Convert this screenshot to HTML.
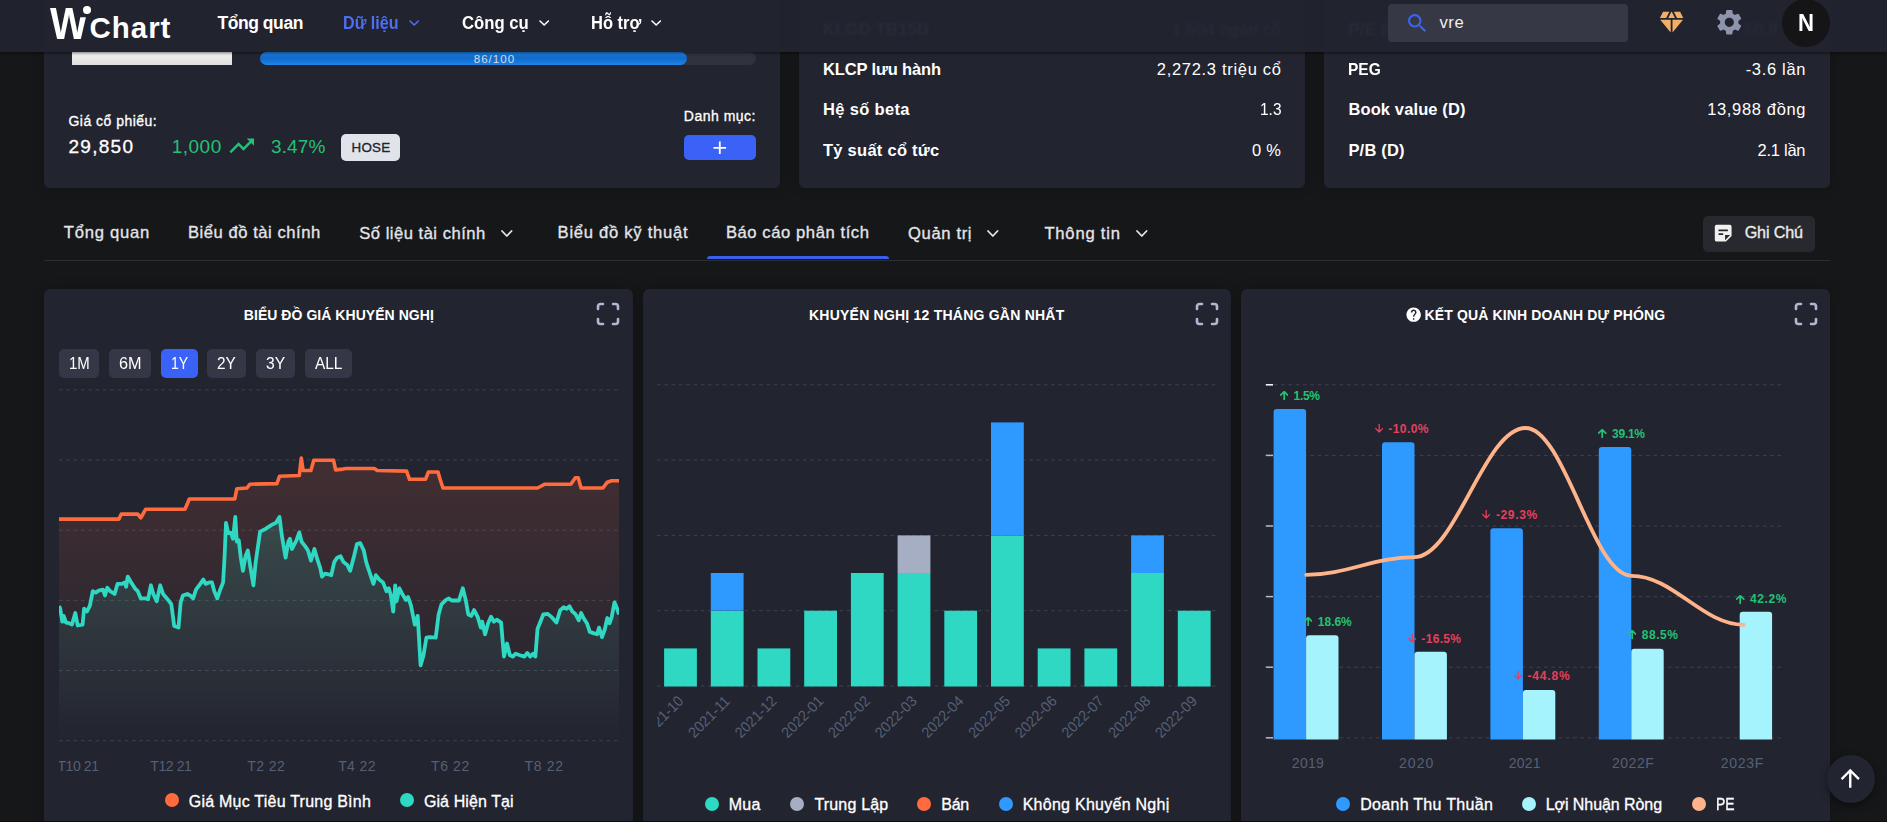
<!DOCTYPE html>
<html lang="vi"><head><meta charset="utf-8"><title>WiChart - VRE</title><style>
*{box-sizing:border-box;margin:0;padding:0}
html,body{width:1887px;height:825px;overflow:hidden;background:#161719;font-family:"Liberation Sans", sans-serif}
body{position:relative}
.b{position:absolute;display:block;border:0}
.t{position:absolute;white-space:pre;line-height:1;display:block}
.card{position:absolute;background:#222430;border-radius:6px;box-shadow:0 0 12px rgba(0,0,0,.22)}
.nav{position:absolute;left:0;top:0;width:1887px;height:52px;background:rgba(33,35,47,.97);box-shadow:0 1px 3px rgba(0,0,0,.55)}
.pb{display:inline-block;width:0;height:0}
.dot{width:14px;height:14px;border-radius:50%}
button.b{padding:0;font:inherit}
</style></head>
<body>
<main>
<section class="card" style="left:44px;top:-40px;width:736px;height:228px">
</section>
<div class="b logoimg" style="left:72.00px;top:52.00px;width:160.00px;height:13.00px;background:linear-gradient(#f4f4f4,#dedede)"></div>
<div class="b track" style="left:260.00px;top:52.00px;width:496.00px;height:13.00px;background:#30323e;border-radius:7px"><div style="width:86%;height:100%;border-radius:7px;background:linear-gradient(#1a86ea,#1468c8 45%,#1a86ea)"></div></div>
<span id="t0" class="t" style="left:473.70px;top:53.00px;font-size:11.60px;font-weight:400;color:#d5dcea;letter-spacing:1.006px;">86/100</span>
<span id="t1" class="t" style="left:68.50px;top:114.00px;font-size:14.00px;font-weight:400;color:#fff;letter-spacing:0.475px;-webkit-text-stroke:0.32px #fff;">Giá cổ phiếu:</span>
<span id="t2" class="t" style="left:68.50px;top:137.00px;font-size:19.00px;font-weight:400;color:#fff;letter-spacing:1.275px;-webkit-text-stroke:0.32px #fff;">29,850</span>
<span id="t3" class="t" style="left:171.80px;top:137.00px;font-size:19.00px;font-weight:400;color:#22c274;letter-spacing:0.463px;">1,000</span>
<svg class="b" style="left:227.30px;top:130.90px" width="29.50" height="29.50" viewBox="0 0 24 24"><path d="m16 6 2.29 2.29-4.88 4.88-4-4L2 16.59 3.41 18l6-6 4 4 6.3-6.29L22 12V6z" fill="#22c274" /></svg>
<span id="t4" class="t" style="left:270.90px;top:137.00px;font-size:19.00px;font-weight:400;color:#22c274;letter-spacing:0.181px;">3.47%</span>
<div class="b badge" style="left:341.00px;top:134.00px;width:59.00px;height:27.00px;background:#e0e3ea;border-radius:5px"></div>
<span id="t5" class="t" style="left:351.40px;top:141.00px;font-size:13.40px;font-weight:400;color:#20222c;letter-spacing:0.316px;-webkit-text-stroke:0.32px #20222c;">HOSE</span>
<span id="t6" class="t" style="left:683.80px;top:109.00px;font-size:14.00px;font-weight:400;color:#fff;letter-spacing:0.500px;-webkit-text-stroke:0.32px #fff;">Danh mục:</span>
<button class="b btn" style="left:684.00px;top:135.00px;width:72.00px;height:25.00px;background:#3b62f6;border-radius:5px"></button>
<svg class="b" style="left:708.80px;top:136.80px" width="21.60" height="21.60" viewBox="0 0 24 24"><path d="M19 13h-6v6h-2v-6H5v-2h6V5h2v6h6v2z" fill="#fff" /></svg>
<section class="card" style="left:799px;top:-40px;width:506px;height:228px"></section>
<span id="t7" class="t" style="left:823.00px;top:61.00px;font-size:16.50px;font-weight:700;color:#fff;letter-spacing:-0.151px;">KLCP lưu hành</span>
<span id="t8" class="t" style="left:1156.80px;top:61.00px;font-size:16.50px;font-weight:400;color:#fff;letter-spacing:0.697px;">2,272.3 triệu cổ</span>
<span id="t9" class="t" style="left:823.00px;top:101.00px;font-size:16.50px;font-weight:700;color:#fff;letter-spacing:0.339px;">Hệ số beta</span>
<span id="t10" class="t" style="left:1259.50px;top:101.00px;font-size:16.50px;font-weight:400;color:#fff;letter-spacing:0.000px;transform:scaleX(0.9373);transform-origin:0 0;">1.3</span>
<span id="t11" class="t" style="left:823.00px;top:142.00px;font-size:16.50px;font-weight:700;color:#fff;letter-spacing:0.261px;">Tỷ suất cổ tức</span>
<span id="t12" class="t" style="left:1251.90px;top:142.00px;font-size:16.50px;font-weight:400;color:#fff;letter-spacing:0.331px;">0 %</span>
<span id="t13" class="t" style="left:823.00px;top:21.00px;font-size:16.50px;font-weight:700;color:#fff;letter-spacing:0.267px;filter:blur(1.2px);">KLGD TB15D</span>
<span id="t14" class="t" style="left:1172.00px;top:21.00px;font-size:16.50px;font-weight:400;color:#fff;letter-spacing:0.367px;filter:blur(1.2px);">1,504 ngàn cổ</span>
<section class="card" style="left:1324px;top:-40px;width:506px;height:228px"></section>
<span id="t15" class="t" style="left:1348.40px;top:61.00px;font-size:16.50px;font-weight:700;color:#fff;letter-spacing:0.000px;transform:scaleX(0.9409);transform-origin:0 0;">PEG</span>
<span id="t16" class="t" style="left:1745.70px;top:61.00px;font-size:16.50px;font-weight:400;color:#fff;letter-spacing:0.679px;">-3.6 lần</span>
<span id="t17" class="t" style="left:1348.40px;top:101.00px;font-size:16.50px;font-weight:700;color:#fff;letter-spacing:0.121px;">Book value (D)</span>
<span id="t18" class="t" style="left:1707.20px;top:101.00px;font-size:16.50px;font-weight:400;color:#fff;letter-spacing:0.653px;">13,988 đồng</span>
<span id="t19" class="t" style="left:1348.40px;top:142.00px;font-size:16.50px;font-weight:700;color:#fff;letter-spacing:0.200px;">P/B (D)</span>
<span id="t20" class="t" style="left:1757.60px;top:142.00px;font-size:16.50px;font-weight:400;color:#fff;letter-spacing:-0.274px;">2.1 lần</span>
<span id="t21" class="t" style="left:1348.40px;top:21.00px;font-size:16.50px;font-weight:700;color:#fff;letter-spacing:0.351px;filter:blur(1.2px);">P/E (D)</span>
<span id="t22" class="t" style="left:1744.70px;top:21.00px;font-size:16.50px;font-weight:400;color:#fff;letter-spacing:0.297px;filter:blur(1.2px);">50.8 lần</span>
<nav class="tabs">
<span id="t23" class="t" style="left:63.80px;top:225.00px;font-size:16.60px;font-weight:400;color:#e4e5e9;letter-spacing:0.755px;-webkit-text-stroke:0.32px #e4e5e9;">Tổng quan</span>
<span id="t24" class="t" style="left:187.90px;top:225.00px;font-size:16.60px;font-weight:400;color:#e4e5e9;letter-spacing:0.548px;-webkit-text-stroke:0.32px #e4e5e9;">Biểu đồ tài chính</span>
<span id="t25" class="t" style="left:359.30px;top:226.00px;font-size:16.60px;font-weight:400;color:#e4e5e9;letter-spacing:0.489px;-webkit-text-stroke:0.32px #e4e5e9;">Số liệu tài chính</span>
<svg class="b" style="left:500.20px;top:229.00px" width="13.60" height="9.00" viewBox="-2 -2 13.60 9.00"><path d="M0 0 L4.80 5.00 L9.60 0" fill="none" stroke="#e4e5e9" stroke-width="1.80" stroke-linecap="round" stroke-linejoin="round"/></svg>
<span id="t26" class="t" style="left:557.60px;top:225.00px;font-size:16.60px;font-weight:400;color:#e4e5e9;letter-spacing:0.732px;-webkit-text-stroke:0.32px #e4e5e9;">Biểu đồ kỹ thuật</span>
<span id="t27" class="t" style="left:725.90px;top:225.00px;font-size:16.60px;font-weight:400;color:#e4e5e9;letter-spacing:0.582px;-webkit-text-stroke:0.32px #e4e5e9;">Báo cáo phân tích</span>
<span id="t28" class="t" style="left:908.00px;top:226.00px;font-size:16.60px;font-weight:400;color:#e4e5e9;letter-spacing:0.638px;-webkit-text-stroke:0.32px #e4e5e9;">Quản trị</span>
<svg class="b" style="left:986.40px;top:229.00px" width="13.60" height="9.00" viewBox="-2 -2 13.60 9.00"><path d="M0 0 L4.80 5.00 L9.60 0" fill="none" stroke="#e4e5e9" stroke-width="1.80" stroke-linecap="round" stroke-linejoin="round"/></svg>
<span id="t29" class="t" style="left:1044.40px;top:226.00px;font-size:16.60px;font-weight:400;color:#e4e5e9;letter-spacing:0.802px;-webkit-text-stroke:0.32px #e4e5e9;">Thông tin</span>
<svg class="b" style="left:1135.30px;top:229.00px" width="13.60" height="9.00" viewBox="-2 -2 13.60 9.00"><path d="M0 0 L4.80 5.00 L9.60 0" fill="none" stroke="#e4e5e9" stroke-width="1.80" stroke-linecap="round" stroke-linejoin="round"/></svg>
<div class="b " style="left:707.00px;top:256.00px;width:182.00px;height:3.00px;background:#3b5fe8;border-radius:3px 3px 0 0"></div>
<div class="b " style="left:44.00px;top:260.00px;width:1786.00px;height:1.00px;background:#2b2d39"></div>
<button class="b btn" style="left:1703.00px;top:216.00px;width:112.00px;height:36.00px;background:#28292f;border-radius:5px"></button>
<svg class="b" style="left:1712.40px;top:222.00px" width="22.40" height="22.40" viewBox="0 0 24 24"><path d="M19 3H4.99C3.89 3 3 3.9 3 5l.01 14c0 1.1.89 2 1.99 2h10l6-6V5c0-1.1-.9-2-2-2zM7 8h10v2H7V8zm5 6H7v-2h5v2zm2 5.5V14h5.5L14 19.5z" fill="#f0f0f0" /></svg>
<span id="t30" class="t" style="left:1744.70px;top:224.00px;font-size:16.20px;font-weight:400;color:#ececec;letter-spacing:-0.165px;-webkit-text-stroke:0.32px #ececec;">Ghi Chú</span>
</nav>
<section class="card panel" style="left:44.00px;top:289px;width:588.67px;height:560px"></section>
<svg class="b" style="left:593.27px;top:298.70px" width="30" height="30" viewBox="0 0 24 24" fill="none" stroke="#aeb8cf" stroke-width="2.1" stroke-linecap="round" stroke-linejoin="round"><path d="M4 8V6a2 2 0 0 1 2-2h2M4 16v2a2 2 0 0 0 2 2h2M16 4h2a2 2 0 0 1 2 2v2M16 20h2a2 2 0 0 0 2-2v-2"/></svg>
<section class="card panel" style="left:642.67px;top:289px;width:588.66px;height:560px"></section>
<svg class="b" style="left:1191.93px;top:298.70px" width="30" height="30" viewBox="0 0 24 24" fill="none" stroke="#aeb8cf" stroke-width="2.1" stroke-linecap="round" stroke-linejoin="round"><path d="M4 8V6a2 2 0 0 1 2-2h2M4 16v2a2 2 0 0 0 2 2h2M16 4h2a2 2 0 0 1 2 2v2M16 20h2a2 2 0 0 0 2-2v-2"/></svg>
<section class="card panel" style="left:1241.33px;top:289px;width:588.67px;height:560px"></section>
<svg class="b" style="left:1790.60px;top:298.70px" width="30" height="30" viewBox="0 0 24 24" fill="none" stroke="#aeb8cf" stroke-width="2.1" stroke-linecap="round" stroke-linejoin="round"><path d="M4 8V6a2 2 0 0 1 2-2h2M4 16v2a2 2 0 0 0 2 2h2M16 4h2a2 2 0 0 1 2 2v2M16 20h2a2 2 0 0 0 2-2v-2"/></svg>
<span id="t31" class="t" style="left:243.80px;top:308.00px;font-size:14.00px;font-weight:700;color:#fff;letter-spacing:0.045px;">BIỂU ĐỒ GIÁ KHUYẾN NGHỊ</span>
<span id="t32" class="t" style="left:809.00px;top:308.00px;font-size:14.00px;font-weight:700;color:#fff;letter-spacing:0.225px;">KHUYẾN NGHỊ 12 THÁNG GẦN NHẤT</span>
<span id="t33" class="t" style="left:1424.50px;top:308.00px;font-size:14.00px;font-weight:700;color:#fff;letter-spacing:0.135px;">KẾT QUẢ KINH DOANH DỰ PHÓNG</span>
<svg class="b" style="left:1404.85px;top:306.35px" width="17.30" height="17.30" viewBox="0 0 24 24"><path d="M12 2C6.48 2 2 6.48 2 12s4.48 10 10 10 10-4.48 10-10S17.52 2 12 2zm1 17h-2v-2h2v2zm2.07-7.75-.9.92C13.45 12.9 13 13.5 13 15h-2v-.5c0-1.1.45-2.1 1.17-2.83l1.24-1.26c.37-.36.59-.86.59-1.41 0-1.1-.9-2-2-2s-2 .9-2 2H8c0-2.21 1.79-4 4-4s4 1.79 4 4c0 .88-.36 1.68-.93 2.25z" fill="#fff" /></svg>
<button class="b btn" style="left:58.90px;top:349.00px;width:39.90px;height:29.00px;background:#353746;border-radius:5px"></button>
<button class="b btn" style="left:109.00px;top:349.00px;width:42.00px;height:29.00px;background:#353746;border-radius:5px"></button>
<button class="b btn" style="left:161.00px;top:349.00px;width:37.00px;height:29.00px;background:#3b62f6;border-radius:5px"></button>
<button class="b btn" style="left:207.10px;top:349.00px;width:38.70px;height:29.00px;background:#353746;border-radius:5px"></button>
<button class="b btn" style="left:256.00px;top:349.00px;width:39.00px;height:29.00px;background:#353746;border-radius:5px"></button>
<button class="b btn" style="left:305.10px;top:349.00px;width:46.70px;height:29.00px;background:#353746;border-radius:5px"></button>
<span id="t34" class="t" style="left:68.60px;top:355.00px;font-size:16.40px;font-weight:400;color:#fff;letter-spacing:0.000px;transform:scaleX(0.9130);transform-origin:0 0;">1M</span>
<span id="t35" class="t" style="left:118.60px;top:355.00px;font-size:16.40px;font-weight:400;color:#fff;letter-spacing:0.000px;transform:scaleX(0.9920);transform-origin:0 0;">6M</span>
<span id="t36" class="t" style="left:171.00px;top:355.00px;font-size:16.40px;font-weight:400;color:#fff;letter-spacing:0.000px;transform:scaleX(0.8573);transform-origin:0 0;">1Y</span>
<span id="t37" class="t" style="left:217.20px;top:355.00px;font-size:16.40px;font-weight:400;color:#fff;letter-spacing:0.000px;transform:scaleX(0.9371);transform-origin:0 0;">2Y</span>
<span id="t38" class="t" style="left:266.00px;top:355.00px;font-size:16.40px;font-weight:400;color:#fff;letter-spacing:0.000px;transform:scaleX(0.9570);transform-origin:0 0;">3Y</span>
<span id="t39" class="t" style="left:314.80px;top:355.00px;font-size:16.40px;font-weight:400;color:#fff;letter-spacing:0.000px;transform:scaleX(0.9393);transform-origin:0 0;">ALL</span>
<svg class="b chart" style="left:0;top:0" width="1887" height="825" viewBox="0 0 1887 825">
<defs><linearGradient id="go" x1="0" y1="458" x2="0" y2="741" gradientUnits="userSpaceOnUse"><stop offset="0" stop-color="#ff6b3d" stop-opacity=".145"/><stop offset="1" stop-color="#ff6b3d" stop-opacity="0"/></linearGradient><linearGradient id="gt" x1="0" y1="517" x2="0" y2="741" gradientUnits="userSpaceOnUse"><stop offset="0" stop-color="#2ed8c3" stop-opacity=".17"/><stop offset="1" stop-color="#2ed8c3" stop-opacity="0"/></linearGradient><clipPath id="c1"><rect x="59" y="380" width="560" height="400"/></clipPath><clipPath id="c2"><rect x="657" y="380" width="580" height="400"/></clipPath></defs>
<path d="M59 389.9 H619" stroke="#3e414e" stroke-width="1" stroke-dasharray="3.65 3.65" fill="none"/>
<path d="M59 460.0 H619" stroke="#3e414e" stroke-width="1" stroke-dasharray="3.65 3.65" fill="none"/>
<path d="M59 530.2 H619" stroke="#3e414e" stroke-width="1" stroke-dasharray="3.65 3.65" fill="none"/>
<path d="M59 600.4 H619" stroke="#3e414e" stroke-width="1" stroke-dasharray="3.65 3.65" fill="none"/>
<path d="M59 670.5 H619" stroke="#3e414e" stroke-width="1" stroke-dasharray="3.65 3.65" fill="none"/>
<path d="M59 740.6 H619" stroke="#3e414e" stroke-width="1" stroke-dasharray="3.65 3.65" fill="none"/>
<g clip-path="url(#c1)">
<path d="M59.0 519.1 L119.0 519.1 L121.3 514.1 L137.8 514.1 L140.8 517.9 L145.7 509.2 L185.0 509.2 L189.3 499.0 L234.8 499.0 L236.8 488.8 L247.0 488.0 L249.9 484.2 L276.9 483.6 L279.5 476.3 L299.3 475.5 L301.3 458.0 L303.1 470.5 L310.9 470.5 L313.8 460.3 L333.6 460.3 L335.6 469.9 L342.9 469.1 L345.8 468.5 L374.3 468.5 L377.2 470.5 L406.6 471.1 L409.5 479.3 L425.5 479.3 L428.4 472.0 L438.0 472.0 L440.1 479.3 L443.0 488.0 L537.5 488.0 L540.4 486.5 L544.8 484.2 L570.9 484.2 L575.3 477.8 L578.2 477.8 L581.1 488.0 L602.9 488.0 L607.3 482.2 L611.6 480.7 L619.0 480.7 L619 741 L59 741 Z" fill="url(#go)"/>
<path d="M59.0 606.0 L60.2 608.6 L62.3 621.7 L63.7 615.9 L66.0 622.6 L69.0 623.1 L71.9 624.6 L73.0 621.0 L75.3 613.0 L77.7 625.5 L82.6 624.6 L84.1 608.6 L87.0 611.5 L89.9 605.7 L92.8 591.2 L95.7 592.6 L98.6 590.6 L103.0 589.7 L105.0 595.5 L107.3 587.7 L110.2 591.2 L114.6 594.0 L117.5 583.9 L121.9 583.9 L124.8 582.4 L126.2 586.8 L127.7 576.6 L131.2 582.4 L134.9 588.3 L137.8 591.2 L140.8 598.4 L145.1 598.4 L148.0 599.3 L150.9 585.3 L153.3 594.0 L156.7 601.3 L160.2 585.3 L163.1 594.0 L166.9 598.4 L171.3 604.2 L174.2 626.0 L178.5 627.5 L180.6 602.8 L182.9 595.5 L187.3 594.0 L190.2 595.5 L193.1 598.4 L196.0 589.7 L200.3 583.9 L203.3 579.5 L205.6 583.9 L209.1 582.4 L212.0 582.4 L214.3 591.2 L217.3 598.4 L220.2 589.7 L223.1 582.4 L224.6 556.3 L226.0 522.8 L228.1 533.0 L231.0 533.0 L233.0 538.8 L235.3 517.0 L236.8 541.7 L238.8 540.3 L240.6 556.3 L242.9 570.8 L245.5 556.3 L247.8 550.5 L250.5 567.9 L253.4 585.3 L255.7 562.1 L260.1 531.6 L265.9 528.7 L271.7 524.9 L276.0 522.8 L279.5 517.0 L281.9 535.9 L285.6 557.7 L288.3 541.7 L290.0 538.8 L292.0 549.0 L296.4 540.3 L299.3 532.4 L301.6 541.7 L305.1 546.1 L308.0 550.5 L310.9 560.6 L314.4 549.0 L317.3 559.2 L320.2 567.9 L322.0 576.6 L324.9 573.7 L328.4 574.3 L331.3 575.2 L334.2 562.1 L337.1 557.7 L340.6 556.3 L343.5 562.1 L347.3 565.0 L350.2 570.8 L354.0 556.3 L356.9 544.1 L360.3 543.2 L363.8 550.5 L366.2 562.1 L369.1 570.8 L373.4 583.9 L375.8 575.2 L379.2 579.5 L383.0 582.4 L386.5 591.2 L388.8 588.3 L390.9 595.5 L393.2 611.5 L395.2 585.3 L396.5 601.4 L399.4 588.3 L402.3 594.1 L406.0 599.9 L408.1 597.0 L411.0 605.7 L414.8 624.6 L417.7 615.9 L420.6 665.4 L423.5 655.2 L426.4 637.7 L429.9 637.1 L435.7 637.7 L438.6 614.5 L441.5 604.3 L445.9 599.9 L448.8 598.5 L451.7 600.5 L459.0 600.5 L462.8 588.3 L465.7 599.9 L468.3 614.5 L471.2 615.9 L474.1 610.1 L477.9 617.4 L480.8 627.6 L482.2 621.7 L485.1 634.2 L488.1 623.2 L491.0 616.8 L493.9 621.7 L496.8 619.7 L501.1 622.6 L504.0 656.6 L507.0 643.5 L509.9 655.2 L512.8 656.6 L515.7 653.7 L520.0 655.2 L524.4 656.6 L527.3 652.9 L530.2 656.6 L533.1 653.7 L535.4 656.6 L537.5 629.0 L540.4 621.7 L543.3 614.5 L547.7 613.9 L552.0 617.4 L556.4 622.6 L560.2 610.1 L563.7 607.2 L566.6 608.7 L569.5 606.3 L572.4 611.6 L575.3 613.9 L578.8 620.3 L581.1 613.0 L584.0 618.8 L586.9 623.2 L589.8 631.9 L594.2 633.4 L597.1 634.2 L599.1 627.6 L602.0 637.1 L604.9 629.0 L607.3 618.0 L609.6 623.2 L611.6 617.4 L614.5 602.3 L616.6 607.2 L619.0 614.5 L619 741 L59 741 Z" fill="url(#gt)"/>
<path d="M59.0 519.1 L119.0 519.1 L121.3 514.1 L137.8 514.1 L140.8 517.9 L145.7 509.2 L185.0 509.2 L189.3 499.0 L234.8 499.0 L236.8 488.8 L247.0 488.0 L249.9 484.2 L276.9 483.6 L279.5 476.3 L299.3 475.5 L301.3 458.0 L303.1 470.5 L310.9 470.5 L313.8 460.3 L333.6 460.3 L335.6 469.9 L342.9 469.1 L345.8 468.5 L374.3 468.5 L377.2 470.5 L406.6 471.1 L409.5 479.3 L425.5 479.3 L428.4 472.0 L438.0 472.0 L440.1 479.3 L443.0 488.0 L537.5 488.0 L540.4 486.5 L544.8 484.2 L570.9 484.2 L575.3 477.8 L578.2 477.8 L581.1 488.0 L602.9 488.0 L607.3 482.2 L611.6 480.7 L619.0 480.7" fill="none" stroke="#ff6b3d" stroke-width="3.6" stroke-linejoin="round" stroke-linecap="butt"/>
<path d="M59.0 606.0 L60.2 608.6 L62.3 621.7 L63.7 615.9 L66.0 622.6 L69.0 623.1 L71.9 624.6 L73.0 621.0 L75.3 613.0 L77.7 625.5 L82.6 624.6 L84.1 608.6 L87.0 611.5 L89.9 605.7 L92.8 591.2 L95.7 592.6 L98.6 590.6 L103.0 589.7 L105.0 595.5 L107.3 587.7 L110.2 591.2 L114.6 594.0 L117.5 583.9 L121.9 583.9 L124.8 582.4 L126.2 586.8 L127.7 576.6 L131.2 582.4 L134.9 588.3 L137.8 591.2 L140.8 598.4 L145.1 598.4 L148.0 599.3 L150.9 585.3 L153.3 594.0 L156.7 601.3 L160.2 585.3 L163.1 594.0 L166.9 598.4 L171.3 604.2 L174.2 626.0 L178.5 627.5 L180.6 602.8 L182.9 595.5 L187.3 594.0 L190.2 595.5 L193.1 598.4 L196.0 589.7 L200.3 583.9 L203.3 579.5 L205.6 583.9 L209.1 582.4 L212.0 582.4 L214.3 591.2 L217.3 598.4 L220.2 589.7 L223.1 582.4 L224.6 556.3 L226.0 522.8 L228.1 533.0 L231.0 533.0 L233.0 538.8 L235.3 517.0 L236.8 541.7 L238.8 540.3 L240.6 556.3 L242.9 570.8 L245.5 556.3 L247.8 550.5 L250.5 567.9 L253.4 585.3 L255.7 562.1 L260.1 531.6 L265.9 528.7 L271.7 524.9 L276.0 522.8 L279.5 517.0 L281.9 535.9 L285.6 557.7 L288.3 541.7 L290.0 538.8 L292.0 549.0 L296.4 540.3 L299.3 532.4 L301.6 541.7 L305.1 546.1 L308.0 550.5 L310.9 560.6 L314.4 549.0 L317.3 559.2 L320.2 567.9 L322.0 576.6 L324.9 573.7 L328.4 574.3 L331.3 575.2 L334.2 562.1 L337.1 557.7 L340.6 556.3 L343.5 562.1 L347.3 565.0 L350.2 570.8 L354.0 556.3 L356.9 544.1 L360.3 543.2 L363.8 550.5 L366.2 562.1 L369.1 570.8 L373.4 583.9 L375.8 575.2 L379.2 579.5 L383.0 582.4 L386.5 591.2 L388.8 588.3 L390.9 595.5 L393.2 611.5 L395.2 585.3 L396.5 601.4 L399.4 588.3 L402.3 594.1 L406.0 599.9 L408.1 597.0 L411.0 605.7 L414.8 624.6 L417.7 615.9 L420.6 665.4 L423.5 655.2 L426.4 637.7 L429.9 637.1 L435.7 637.7 L438.6 614.5 L441.5 604.3 L445.9 599.9 L448.8 598.5 L451.7 600.5 L459.0 600.5 L462.8 588.3 L465.7 599.9 L468.3 614.5 L471.2 615.9 L474.1 610.1 L477.9 617.4 L480.8 627.6 L482.2 621.7 L485.1 634.2 L488.1 623.2 L491.0 616.8 L493.9 621.7 L496.8 619.7 L501.1 622.6 L504.0 656.6 L507.0 643.5 L509.9 655.2 L512.8 656.6 L515.7 653.7 L520.0 655.2 L524.4 656.6 L527.3 652.9 L530.2 656.6 L533.1 653.7 L535.4 656.6 L537.5 629.0 L540.4 621.7 L543.3 614.5 L547.7 613.9 L552.0 617.4 L556.4 622.6 L560.2 610.1 L563.7 607.2 L566.6 608.7 L569.5 606.3 L572.4 611.6 L575.3 613.9 L578.8 620.3 L581.1 613.0 L584.0 618.8 L586.9 623.2 L589.8 631.9 L594.2 633.4 L597.1 634.2 L599.1 627.6 L602.0 637.1 L604.9 629.0 L607.3 618.0 L609.6 623.2 L611.6 617.4 L614.5 602.3 L616.6 607.2 L619.0 614.5" fill="none" stroke="#2ed8c3" stroke-width="3.8" stroke-linejoin="round" stroke-linecap="butt"/>
</g>
<path d="M657 384.8 H1218" stroke="#3e414e" stroke-width="1" stroke-dasharray="3.65 3.65" fill="none"/>
<path d="M657 460.1 H1218" stroke="#3e414e" stroke-width="1" stroke-dasharray="3.65 3.65" fill="none"/>
<path d="M657 535.4 H1218" stroke="#3e414e" stroke-width="1" stroke-dasharray="3.65 3.65" fill="none"/>
<path d="M657 610.7 H1218" stroke="#3e414e" stroke-width="1" stroke-dasharray="3.65 3.65" fill="none"/>
<path d="M657 686.0 H1218" stroke="#3e414e" stroke-width="1" stroke-dasharray="3.65 3.65" fill="none"/>
<rect x="664.1" y="648.4" width="32.8" height="38.1" fill="#2ed8c3"/>
<rect x="710.8" y="610.7" width="32.8" height="75.8" fill="#2ed8c3"/>
<rect x="710.8" y="573.0" width="32.8" height="37.6" fill="#2e99ff"/>
<rect x="757.5" y="648.4" width="32.8" height="38.1" fill="#2ed8c3"/>
<rect x="804.2" y="610.7" width="32.8" height="75.8" fill="#2ed8c3"/>
<rect x="850.9" y="573.0" width="32.8" height="113.4" fill="#2ed8c3"/>
<rect x="897.6" y="573.0" width="32.8" height="113.4" fill="#2ed8c3"/>
<rect x="897.6" y="535.4" width="32.8" height="37.6" fill="#a5aec2"/>
<rect x="944.3" y="610.7" width="32.8" height="75.8" fill="#2ed8c3"/>
<rect x="991.0" y="535.4" width="32.8" height="151.1" fill="#2ed8c3"/>
<rect x="991.0" y="422.4" width="32.8" height="112.9" fill="#2e99ff"/>
<rect x="1037.7" y="648.4" width="32.8" height="38.1" fill="#2ed8c3"/>
<rect x="1084.4" y="648.4" width="32.8" height="38.1" fill="#2ed8c3"/>
<rect x="1131.1" y="573.0" width="32.8" height="113.4" fill="#2ed8c3"/>
<rect x="1131.1" y="535.4" width="32.8" height="37.6" fill="#2e99ff"/>
<rect x="1177.8" y="610.7" width="32.8" height="75.8" fill="#2ed8c3"/>
<g clip-path="url(#c2)" font-family='Liberation Sans, sans-serif' font-size="15" fill="#566075" text-anchor="end">
<text x="684.3" y="702.0" transform="rotate(-45 684.3 702.0)" textLength="52" lengthAdjust="spacingAndGlyphs">2021-10</text>
<text x="731.0" y="702.0" transform="rotate(-45 731.0 702.0)" textLength="52" lengthAdjust="spacingAndGlyphs">2021-11</text>
<text x="777.7" y="702.0" transform="rotate(-45 777.7 702.0)" textLength="52" lengthAdjust="spacingAndGlyphs">2021-12</text>
<text x="824.4" y="702.0" transform="rotate(-45 824.4 702.0)" textLength="52" lengthAdjust="spacingAndGlyphs">2022-01</text>
<text x="871.1" y="702.0" transform="rotate(-45 871.1 702.0)" textLength="52" lengthAdjust="spacingAndGlyphs">2022-02</text>
<text x="917.8" y="702.0" transform="rotate(-45 917.8 702.0)" textLength="52" lengthAdjust="spacingAndGlyphs">2022-03</text>
<text x="964.5" y="702.0" transform="rotate(-45 964.5 702.0)" textLength="52" lengthAdjust="spacingAndGlyphs">2022-04</text>
<text x="1011.2" y="702.0" transform="rotate(-45 1011.2 702.0)" textLength="52" lengthAdjust="spacingAndGlyphs">2022-05</text>
<text x="1057.9" y="702.0" transform="rotate(-45 1057.9 702.0)" textLength="52" lengthAdjust="spacingAndGlyphs">2022-06</text>
<text x="1104.6" y="702.0" transform="rotate(-45 1104.6 702.0)" textLength="52" lengthAdjust="spacingAndGlyphs">2022-07</text>
<text x="1151.3" y="702.0" transform="rotate(-45 1151.3 702.0)" textLength="52" lengthAdjust="spacingAndGlyphs">2022-08</text>
<text x="1198.0" y="702.0" transform="rotate(-45 1198.0 702.0)" textLength="52" lengthAdjust="spacingAndGlyphs">2022-09</text>
</g>
<path d="M1273.8 384.8 H1785.3" stroke="#3e414e" stroke-width="1" stroke-dasharray="3.65 3.65" fill="none"/>
<path d="M1265.8 384.8 H1273" stroke="#fff" stroke-width="1.5"/>
<path d="M1273.8 455.4 H1785.3" stroke="#3e414e" stroke-width="1" stroke-dasharray="3.65 3.65" fill="none"/>
<path d="M1265.8 455.4 H1273" stroke="#b9bcc6" stroke-width="1.5"/>
<path d="M1273.8 526.0 H1785.3" stroke="#3e414e" stroke-width="1" stroke-dasharray="3.65 3.65" fill="none"/>
<path d="M1265.8 526.0 H1273" stroke="#b9bcc6" stroke-width="1.5"/>
<path d="M1273.8 596.6 H1785.3" stroke="#3e414e" stroke-width="1" stroke-dasharray="3.65 3.65" fill="none"/>
<path d="M1265.8 596.6 H1273" stroke="#b9bcc6" stroke-width="1.5"/>
<path d="M1273.8 667.2 H1785.3" stroke="#3e414e" stroke-width="1" stroke-dasharray="3.65 3.65" fill="none"/>
<path d="M1265.8 667.2 H1273" stroke="#b9bcc6" stroke-width="1.5"/>
<path d="M1273.8 737.8 H1785.3" stroke="#3e414e" stroke-width="1" stroke-dasharray="3.65 3.65" fill="none"/>
<path d="M1265.8 737.8 H1273" stroke="#b9bcc6" stroke-width="1.5"/>
<path d="M1273.6 739.5 V411.9 Q1273.6 408.9 1276.6 408.9 H1303.1 Q1306.1 408.9 1306.1 411.9 V739.5 Z" fill="#2e99ff"/>
<path d="M1306.1 739.5 V638.3 Q1306.1 635.3 1309.1 635.3 H1335.5 Q1338.5 635.3 1338.5 638.3 V739.5 Z" fill="#a5f3fc"/>
<path d="M1382.0 739.5 V445.2 Q1382.0 442.2 1385.0 442.2 H1411.5 Q1414.5 442.2 1414.5 445.2 V739.5 Z" fill="#2e99ff"/>
<path d="M1414.5 739.5 V654.8 Q1414.5 651.8 1417.5 651.8 H1443.9 Q1446.9 651.8 1446.9 654.8 V739.5 Z" fill="#a5f3fc"/>
<path d="M1490.4 739.5 V531.2 Q1490.4 528.2 1493.4 528.2 H1519.9 Q1522.9 528.2 1522.9 531.2 V739.5 Z" fill="#2e99ff"/>
<path d="M1522.9 739.5 V692.9 Q1522.9 689.9 1525.9 689.9 H1552.3 Q1555.3 689.9 1555.3 692.9 V739.5 Z" fill="#a5f3fc"/>
<path d="M1598.8 739.5 V450.0 Q1598.8 447.0 1601.8 447.0 H1628.3 Q1631.3 447.0 1631.3 450.0 V739.5 Z" fill="#2e99ff"/>
<path d="M1631.3 739.5 V651.7 Q1631.3 648.7 1634.3 648.7 H1660.7 Q1663.7 648.7 1663.7 651.7 V739.5 Z" fill="#a5f3fc"/>
<path d="M1739.7 739.5 V614.7 Q1739.7 611.7 1742.7 611.7 H1769.1 Q1772.1 611.7 1772.1 614.7 V739.5 Z" fill="#a5f3fc"/>
<path d="M1306.2 574.8 C1346.2 574.8 1374.2 557.2 1414.2 557.2 C1455.4 557.2 1484.3 428.0 1525.5 428.0 C1564.8 428.0 1592.4 575.8 1631.7 575.8 C1673.2 575.8 1702.3 624.8 1743.8 624.8" fill="none" stroke="#ffb38a" stroke-width="3.8" stroke-linecap="round"/>
</svg>
<div class="b" style="left:59.3px;top:750px;width:560px;height:30px;overflow:hidden">
<span id="t40" class="t" style="left:-1.90px;top:9.00px;font-size:14.00px;font-weight:400;color:#566075;letter-spacing:-0.399px;">T10 21</span>
<span id="t41" class="t" style="left:91.00px;top:9.00px;font-size:14.00px;font-weight:400;color:#566075;letter-spacing:-0.399px;">T12 21</span>
<span id="t42" class="t" style="left:188.00px;top:9.00px;font-size:14.00px;font-weight:400;color:#566075;letter-spacing:0.422px;">T2 22</span>
<span id="t43" class="t" style="left:278.90px;top:9.00px;font-size:14.00px;font-weight:400;color:#566075;letter-spacing:0.372px;">T4 22</span>
<span id="t44" class="t" style="left:371.80px;top:9.00px;font-size:14.00px;font-weight:400;color:#566075;letter-spacing:0.597px;">T6 22</span>
<span id="t45" class="t" style="left:465.30px;top:9.00px;font-size:14.00px;font-weight:400;color:#566075;letter-spacing:0.647px;">T8 22</span>
</div>
<span id="t46" class="t" style="left:1291.80px;top:756.00px;font-size:14.00px;font-weight:400;color:#566075;letter-spacing:0.315px;">2019</span>
<span id="t47" class="t" style="left:1398.90px;top:756.00px;font-size:14.00px;font-weight:400;color:#566075;letter-spacing:1.115px;">2020</span>
<span id="t48" class="t" style="left:1508.70px;top:756.00px;font-size:14.00px;font-weight:400;color:#566075;letter-spacing:0.215px;">2021</span>
<span id="t49" class="t" style="left:1612.00px;top:756.00px;font-size:14.00px;font-weight:400;color:#566075;letter-spacing:0.524px;">2022F</span>
<span id="t50" class="t" style="left:1720.80px;top:756.00px;font-size:14.00px;font-weight:400;color:#566075;letter-spacing:0.699px;">2023F</span>
<svg class="b" style="left:1279.80px;top:391.10px" width="8.4" height="9" viewBox="0 0 8.4 9"><path d="M4.2 8.6 V0.6 M0.6 4.2 L4.2 0.6 L7.8 4.2" fill="none" stroke="#22c274" stroke-width="1.7" stroke-linecap="round" stroke-linejoin="round"/></svg>
<span id="t51" class="t" style="left:1293.60px;top:390.00px;font-size:12.00px;font-weight:700;color:#22c274;letter-spacing:-0.353px;">1.5%</span>
<svg class="b" style="left:1374.50px;top:424.20px" width="8.4" height="9" viewBox="0 0 8.4 9"><path d="M4.2 0 V8 M0.6 4.4 L4.2 8 L7.8 4.4" fill="none" stroke="#e5405a" stroke-width="1.3" stroke-linecap="round" stroke-linejoin="round"/></svg>
<span id="t52" class="t" style="left:1388.30px;top:423.00px;font-size:12.00px;font-weight:700;color:#e5405a;letter-spacing:0.434px;">-10.0%</span>
<svg class="b" style="left:1482.10px;top:510.30px" width="8.4" height="9" viewBox="0 0 8.4 9"><path d="M4.2 0 V8 M0.6 4.4 L4.2 8 L7.8 4.4" fill="none" stroke="#e5405a" stroke-width="1.3" stroke-linecap="round" stroke-linejoin="round"/></svg>
<span id="t53" class="t" style="left:1495.90px;top:509.00px;font-size:12.00px;font-weight:700;color:#e5405a;letter-spacing:0.654px;">-29.3%</span>
<svg class="b" style="left:1598.30px;top:429.40px" width="8.4" height="9" viewBox="0 0 8.4 9"><path d="M4.2 8.6 V0.6 M0.6 4.2 L4.2 0.6 L7.8 4.2" fill="none" stroke="#22c274" stroke-width="1.7" stroke-linecap="round" stroke-linejoin="round"/></svg>
<span id="t54" class="t" style="left:1612.10px;top:428.00px;font-size:12.00px;font-weight:700;color:#22c274;letter-spacing:-0.283px;">39.1%</span>
<svg class="b" style="left:1304.00px;top:617.30px" width="8.4" height="9" viewBox="0 0 8.4 9"><path d="M4.2 8.6 V0.6 M0.6 4.2 L4.2 0.6 L7.8 4.2" fill="none" stroke="#22c274" stroke-width="1.7" stroke-linecap="round" stroke-linejoin="round"/></svg>
<span id="t55" class="t" style="left:1317.80px;top:616.00px;font-size:12.00px;font-weight:700;color:#22c274;letter-spacing:-0.008px;">18.6%</span>
<svg class="b" style="left:1407.50px;top:634.40px" width="8.4" height="9" viewBox="0 0 8.4 9"><path d="M4.2 0 V8 M0.6 4.4 L4.2 8 L7.8 4.4" fill="none" stroke="#e5405a" stroke-width="1.3" stroke-linecap="round" stroke-linejoin="round"/></svg>
<span id="t56" class="t" style="left:1421.30px;top:633.00px;font-size:12.00px;font-weight:700;color:#e5405a;letter-spacing:0.334px;">-16.5%</span>
<svg class="b" style="left:1513.60px;top:671.20px" width="8.4" height="9" viewBox="0 0 8.4 9"><path d="M4.2 0 V8 M0.6 4.4 L4.2 8 L7.8 4.4" fill="none" stroke="#e5405a" stroke-width="1.3" stroke-linecap="round" stroke-linejoin="round"/></svg>
<span id="t57" class="t" style="left:1527.40px;top:670.00px;font-size:12.00px;font-weight:700;color:#e5405a;letter-spacing:0.834px;">-44.8%</span>
<svg class="b" style="left:1628.00px;top:630.30px" width="8.4" height="9" viewBox="0 0 8.4 9"><path d="M4.2 8.6 V0.6 M0.6 4.2 L4.2 0.6 L7.8 4.2" fill="none" stroke="#22c274" stroke-width="1.7" stroke-linecap="round" stroke-linejoin="round"/></svg>
<span id="t58" class="t" style="left:1641.80px;top:629.00px;font-size:12.00px;font-weight:700;color:#22c274;letter-spacing:0.542px;">88.5%</span>
<svg class="b" style="left:1736.20px;top:594.60px" width="8.4" height="9" viewBox="0 0 8.4 9"><path d="M4.2 8.6 V0.6 M0.6 4.2 L4.2 0.6 L7.8 4.2" fill="none" stroke="#22c274" stroke-width="1.7" stroke-linecap="round" stroke-linejoin="round"/></svg>
<span id="t59" class="t" style="left:1750.00px;top:593.00px;font-size:12.00px;font-weight:700;color:#22c274;letter-spacing:0.592px;">42.2%</span>
<i class="b dot" style="left:165.20px;top:793.20px;background:#ff6b3d"></i>
<span id="t60" class="t" style="left:188.80px;top:794.00px;font-size:16.00px;font-weight:400;color:#fff;letter-spacing:0.228px;-webkit-text-stroke:0.32px #fff;">Giá Mục Tiêu Trung Bình</span>
<i class="b dot" style="left:399.90px;top:793.20px;background:#2ed8c3"></i>
<span id="t61" class="t" style="left:423.90px;top:794.00px;font-size:16.00px;font-weight:400;color:#fff;letter-spacing:0.105px;-webkit-text-stroke:0.32px #fff;">Giá Hiện Tại</span>
<i class="b dot" style="left:705.00px;top:797.00px;background:#2ed8c3"></i>
<span id="t62" class="t" style="left:728.80px;top:797.00px;font-size:16.00px;font-weight:400;color:#fff;letter-spacing:0.238px;-webkit-text-stroke:0.32px #fff;">Mua</span>
<i class="b dot" style="left:790.00px;top:797.00px;background:#a5aec2"></i>
<span id="t63" class="t" style="left:814.40px;top:797.00px;font-size:16.00px;font-weight:400;color:#fff;letter-spacing:0.182px;-webkit-text-stroke:0.32px #fff;">Trung Lập</span>
<i class="b dot" style="left:917.30px;top:797.00px;background:#ff6b3d"></i>
<span id="t64" class="t" style="left:941.20px;top:797.00px;font-size:16.00px;font-weight:400;color:#fff;letter-spacing:-0.234px;-webkit-text-stroke:0.32px #fff;">Bán</span>
<i class="b dot" style="left:998.60px;top:797.00px;background:#2e99ff"></i>
<span id="t65" class="t" style="left:1022.70px;top:797.00px;font-size:16.00px;font-weight:400;color:#fff;letter-spacing:0.261px;-webkit-text-stroke:0.32px #fff;">Không Khuyến Nghị</span>
<i class="b dot" style="left:1336.30px;top:797.20px;background:#2e99ff"></i>
<span id="t66" class="t" style="left:1360.20px;top:797.00px;font-size:16.00px;font-weight:400;color:#fff;letter-spacing:0.300px;-webkit-text-stroke:0.32px #fff;">Doanh Thu Thuần</span>
<i class="b dot" style="left:1521.80px;top:797.20px;background:#a5f3fc"></i>
<span id="t67" class="t" style="left:1545.70px;top:797.00px;font-size:16.00px;font-weight:400;color:#fff;letter-spacing:-0.064px;-webkit-text-stroke:0.32px #fff;">Lợi Nhuận Ròng</span>
<i class="b dot" style="left:1691.70px;top:797.20px;background:#ffb38a"></i>
<span id="t68" class="t" style="left:1716.00px;top:797.00px;font-size:16.00px;font-weight:400;color:#fff;letter-spacing:0.000px;-webkit-text-stroke:0.32px #fff;transform:scaleX(0.8714);transform-origin:0 0;">PE</span>
</main>
<header class="nav">
</header>
<a class="b logo" style="left:0;top:0">
<span id="t69" class="t" style="left:50.20px;top:3.00px;font-size:43.50px;font-weight:700;color:#fff;letter-spacing:0.000px;clip-path:polygon(0 0,71% 0,71% 33%,120% 33%,120% 120%,0 120%);transform:scaleX(0.9254);transform-origin:0 0;">W</span>
<span id="t70" class="t" style="left:89.60px;top:13.00px;font-size:29.50px;font-weight:700;color:#fff;letter-spacing:0.938px;">Chart</span>
</a>
<i class="b" style="left:83.0px;top:6.4px;width:7.8px;height:7.8px;border-radius:50%;background:#fff"></i>
<span id="t71" class="t" style="left:217.40px;top:15.00px;font-size:17.50px;font-weight:700;color:#fff;letter-spacing:-0.430px;">Tổng quan</span>
<span id="t72" class="t" style="left:342.50px;top:15.00px;font-size:17.50px;font-weight:700;color:#4d6ef5;letter-spacing:0.000px;transform:scaleX(0.9200);transform-origin:0 0;">Dữ liệu</span>
<svg class="b" style="left:407.60px;top:18.70px" width="12.40" height="8.00" viewBox="-2 -2 12.40 8.00"><path d="M0 0 L4.20 4.00 L8.40 0" fill="none" stroke="#4d6ef5" stroke-width="1.60" stroke-linecap="round" stroke-linejoin="round"/></svg>
<span id="t73" class="t" style="left:461.60px;top:15.00px;font-size:17.50px;font-weight:700;color:#fff;letter-spacing:0.000px;transform:scaleX(0.9543);transform-origin:0 0;">Công cụ</span>
<svg class="b" style="left:537.60px;top:18.70px" width="12.40" height="8.00" viewBox="-2 -2 12.40 8.00"><path d="M0 0 L4.20 4.00 L8.40 0" fill="none" stroke="#fff" stroke-width="1.60" stroke-linecap="round" stroke-linejoin="round"/></svg>
<span id="t74" class="t" style="left:591.40px;top:15.00px;font-size:17.50px;font-weight:700;color:#fff;letter-spacing:0.000px;transform:scaleX(0.9422);transform-origin:0 0;">Hỗ trợ</span>
<svg class="b" style="left:649.80px;top:18.70px" width="12.40" height="8.00" viewBox="-2 -2 12.40 8.00"><path d="M0 0 L4.20 4.00 L8.40 0" fill="none" stroke="#fff" stroke-width="1.60" stroke-linecap="round" stroke-linejoin="round"/></svg>
<div class="b search" style="left:1388.00px;top:4.00px;width:240.00px;height:38.00px;background:#363845;border-radius:4px"></div>
<svg class="b" style="left:1404.70px;top:10.70px" width="24.70" height="24.70" viewBox="0 0 24 24"><path d="M15.5 14h-.79l-.28-.27C15.41 12.59 16 11.11 16 9.5 16 5.91 13.09 3 9.5 3S3 5.91 3 9.5 5.91 16 9.5 16c1.61 0 3.09-.59 4.23-1.57l.27.28v.79l5 4.99L20.49 19l-4.99-5zm-6 0C7.01 14 5 11.99 5 9.5S7.01 5 9.5 5 14 7.01 14 9.5 11.99 14 9.5 14z" fill="#3b63f6" /></svg>
<span id="t75" class="t" style="left:1439.40px;top:15.00px;font-size:16.60px;font-weight:400;color:#f0f0f0;letter-spacing:0.669px;">vre</span>
<svg class="b" style="left:1657.10px;top:7.72px" width="29.20" height="29.20" viewBox="0 0 24 24"><path d="M12.16 3h-.32L9.21 8.25h5.58zm4.3 5.25h5.16L19 3h-5.16zm4.92 1.5h-8.63V20.1zM11.25 20.1V9.75H2.62zM7.54 8.25 10.16 3H5L2.38 8.25z" fill="#f2ad66" /></svg>
<svg class="b" style="left:1713.90px;top:6.95px" width="30.60" height="30.60" viewBox="0 0 24 24"><path d="M19.14 12.94c.04-.3.06-.61.06-.94 0-.32-.02-.64-.07-.94l2.03-1.58c.18-.14.23-.41.12-.61l-1.92-3.32c-.12-.22-.37-.29-.59-.22l-2.39.96c-.5-.38-1.03-.7-1.62-.94l-.36-2.54c-.04-.24-.24-.41-.48-.41h-3.84c-.24 0-.43.17-.47.41l-.36 2.54c-.59.24-1.13.57-1.62.94l-2.39-.96c-.22-.08-.47 0-.59.22L2.74 8.87c-.12.21-.08.47.12.61l2.03 1.58c-.05.3-.09.63-.09.94s.02.64.07.94l-2.03 1.58c-.18.14-.23.41-.12.61l1.92 3.32c.12.22.37.29.59.22l2.39-.96c.5.38 1.03.7 1.62.94l.36 2.54c.05.24.24.41.48.41h3.84c.24 0 .44-.17.47-.41l.36-2.54c.59-.24 1.13-.56 1.62-.94l2.39.96c.22.08.47 0 .59-.22l1.92-3.32c.12-.22.07-.47-.12-.61l-2.01-1.58zM12 15.6c-1.98 0-3.6-1.62-3.6-3.6s1.62-3.6 3.6-3.6 3.6 1.62 3.6 3.6-1.62 3.6-3.6 3.6z" fill="#8e94ab" /></svg>
<i class="b" style="left:1782px;top:-1.3px;width:48px;height:48px;border-radius:50%;background:#151517"></i>
<span id="t76" class="t" style="left:1798.00px;top:11.00px;font-size:24.60px;font-weight:700;color:#fff;letter-spacing:0.000px;transform:scaleX(0.9006);transform-origin:0 0;">N</span>
<i class="b" style="left:1827px;top:755.2px;width:47.8px;height:47.8px;border-radius:50%;background:#222430;box-shadow:0 3px 8px rgba(0,0,0,.45)"></i>
<svg class="b" style="left:1836.25px;top:764.45px" width="28.50" height="28.50" viewBox="0 0 24 24"><path d="m4 12 1.41 1.41L11 7.83V20h2V7.83l5.58 5.59L20 12l-8-8-8 8z" fill="#fff" /></svg>
<div class="b " style="left:0.00px;top:821.00px;width:1887.00px;height:1.00px;background:#0c0c0e"></div>
<div class="b " style="left:0.00px;top:822.00px;width:1887.00px;height:3.00px;background:#fff"></div>
</body></html>
